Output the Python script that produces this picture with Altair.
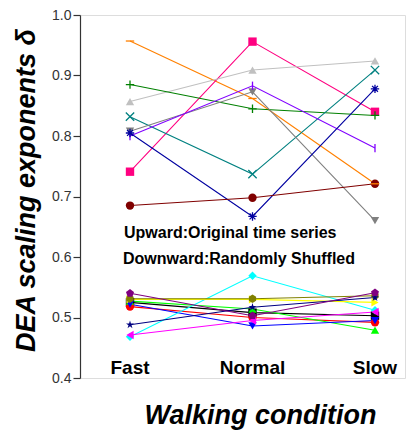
import altair as alt
import pandas as pd

# ---- data ----
conditions = ["Fast", "Normal", "Slow"]
cond_pos = [1, 2, 3]

# Upward: original time series
orig_orange = [0.957, 0.862, 0.721]
orig_pink = [0.741, 0.956, 0.840]
orig_lightgray = [0.857, 0.909, 0.924]
orig_green = [0.885, 0.845, 0.834]
orig_teal = [0.832, 0.737, 0.909]
orig_gray = [0.808, 0.873, 0.660]
orig_violet = [0.800, 0.883, 0.780]
orig_royal = [0.805, 0.667, 0.878]
orig_wine = [0.685, 0.698, 0.721]

# Downward: randomly shuffled
shuf_black = [0.525, 0.508, 0.503]
shuf_red = [0.518, 0.500, 0.492]
shuf_green = [0.527, 0.514, 0.479]
shuf_blue = [0.522, 0.486, 0.495]
shuf_cyan = [0.468, 0.569, 0.512]
shuf_magenta = [0.471, 0.495, 0.509]
shuf_yellow = [0.530, 0.530, 0.525]
shuf_olive = [0.531, 0.531, 0.536]
shuf_navy = [0.488, 0.517, 0.533]
shuf_purple = [0.540, 0.503, 0.541]

tick_values = [0.4, 0.45, 0.5, 0.55, 0.6, 0.65, 0.7, 0.75, 0.8, 0.85, 0.9, 0.95, 1.0]

# ---- styles ----
STAR = ("M0,-1L0.2233,-0.3074L0.951,-0.309L0.3614,0.1174L0.588,0.809L0,0.38"
        "L-0.588,0.809L-0.3614,0.1174L-0.951,-0.309L-0.2233,-0.3074Z")
HEX = "M0,-1L0.866,-0.5L0.866,0.5L0,1L-0.866,0.5L-0.866,-0.5Z"
PENT = "M0,-1L0.951,-0.309L0.588,0.809L-0.588,0.809L-0.951,-0.309Z"
PLUS = "M-1,0H1M0,-1V1"
XMARK = "M-1,-1L1,1M-1,1L1,-1"
AST = "M-1,0H1M0,-1V1M-0.7,-0.7L0.7,0.7M-0.7,0.7L0.7,-0.7"
DASH = "M-1,0H1"
BAR = "M0,-1V1"

# name: (values, color, shape, filled, size)
series = {
    "o_orange": (orig_orange, "#FF8000", DASH, False, 70),
    "o_pink": (orig_pink, "#FF0080", "square", True, 70),
    "o_lightgray": (orig_lightgray, "#C0C0C0", "triangle-up", True, 90),
    "o_green": (orig_green, "#008000", PLUS, False, 64),
    "o_teal": (orig_teal, "#008080", XMARK, False, 64),
    "o_gray": (orig_gray, "#808080", "triangle-down", True, 90),
    "o_violet": (orig_violet, "#8000FF", BAR, False, 80),
    "o_royal": (orig_royal, "#0000A0", AST, False, 90),
    "o_wine": (orig_wine, "#800000", "circle", True, 75),
    "s_black": (shuf_black, "#000000", "square", True, 55),
    "s_red": (shuf_red, "#FF0000", "circle", True, 70),
    "s_green": (shuf_green, "#00FF00", "triangle-up", True, 80),
    "s_blue": (shuf_blue, "#0000FF", "triangle-down", True, 80),
    "s_cyan": (shuf_cyan, "#00FFFF", "diamond", True, 90),
    "s_magenta": (shuf_magenta, "#FF00FF", "triangle-left", True, 90),
    "s_yellow": (shuf_yellow, "#FFFF00", "triangle-right", True, 80),
    "s_olive": (shuf_olive, "#808000", HEX, True, 90),
    "s_navy": (shuf_navy, "#000080", STAR, True, 110),
    "s_purple": (shuf_purple, "#800080", PENT, True, 90),
}

names = list(series.keys())
rows = []
for k, name in enumerate(names):
    vals = series[name][0]
    for c, p, v in zip(conditions, cond_pos, vals):
        rows.append({"series": name, "cond": c, "pos": p, "value": v, "k": k})
df = pd.DataFrame(rows)

color_scale = alt.Scale(domain=names, range=[series[n][1] for n in names])
shape_scale = alt.Scale(domain=names, range=[series[n][2] for n in names])
size_scale = alt.Scale(domain=names, range=[series[n][4] for n in names])
filled_names = [n for n in names if series[n][3]]
open_names = [n for n in names if not series[n][3]]

FONT = "Liberation Sans"

x_enc = alt.X("pos:Q", scale=alt.Scale(domain=[0.5918, 3.245], nice=False, zero=False),
              axis=alt.Axis(title="Walking condition", labels=False, ticks=False, domain=False,
                            grid=False, titleFont=FONT, titleFontSize=27, titleFontWeight="bold",
                            titleFontStyle="italic", titleColor="black", titleX=180,
                            titlePadding=24))
major_test = "abs(datum.value*10 - round(datum.value*10)) < 0.001"
y_enc = alt.Y("value:Q", scale=alt.Scale(domain=[0.4, 1.0], nice=False, zero=False),
              axis=alt.Axis(title="DEA scaling exponents δ", values=tick_values,
                            labelExpr=f"{major_test} ? format(datum.value, '.1f') : ''",
                            tickSize={"condition": {"test": major_test, "value": 7}, "value": 4},
                            grid=False, domainColor="#333333", tickColor="#333333",
                            domainWidth=1.2, tickWidth=1.2, labelFont=FONT, labelFontSize=14,
                            labelColor="#333333", labelPadding=2,
                            titleFont=FONT, titleFontSize=27, titleFontWeight="bold",
                            titleFontStyle="italic", titleColor="black", titlePadding=11,
                            titleY=175))

base = alt.Chart(df)

lines = base.mark_line(strokeWidth=1.1).encode(
    x=x_enc, y=y_enc,
    color=alt.Color("series:N", scale=color_scale, legend=None),
    detail="series:N",
    order="pos:Q",
)

filled_pts = base.transform_filter(
    alt.FieldOneOfPredicate(field="series", oneOf=filled_names)
).mark_point(filled=True, opacity=1).encode(
    x="pos:Q", y="value:Q",
    color=alt.Color("series:N", scale=color_scale, legend=None),
    shape=alt.Shape("series:N", scale=shape_scale, legend=None),
    size=alt.Size("series:N", scale=size_scale, legend=None),
)

open_pts = base.transform_filter(
    alt.FieldOneOfPredicate(field="series", oneOf=open_names)
).mark_point(filled=False, opacity=1, strokeWidth=1.3).encode(
    x="pos:Q", y="value:Q",
    color=alt.Color("series:N", scale=color_scale, legend=None),
    shape=alt.Shape("series:N", scale=shape_scale, legend=None),
    size=alt.Size("series:N", scale=size_scale, legend=None),
)

cond_df = pd.DataFrame({"cond": conditions, "pos": cond_pos})
cond_labels = alt.Chart(cond_df).mark_text(
    font=FONT, fontSize=19, fontWeight="bold", color="black", baseline="middle", align="center"
).encode(x="pos:Q", y=alt.value(353), text="cond:N")

notes = ["Upward:Original time series", "Downward:Randomly Shuffled"]
note1 = alt.Chart(pd.DataFrame({"t": [notes[0]]})).mark_text(
    font=FONT, fontSize=16, fontWeight="bold", color="black", align="left", baseline="alphabetic"
).encode(x=alt.value(44), y=alt.value(223), text="t:N")
note2 = alt.Chart(pd.DataFrame({"t": [notes[1]]})).mark_text(
    font=FONT, fontSize=16, fontWeight="bold", color="black", align="left", baseline="alphabetic"
).encode(x=alt.value(43), y=alt.value(249), text="t:N")

chart = alt.layer(lines, filled_pts, open_pts, cond_labels, note1, note2).properties(
    width=325, height=363,
    autosize=alt.AutoSizeParams(type="none"),
    padding={"left": 72, "top": 7, "right": 6, "bottom": 52},
).configure_view(stroke=None).configure(background="white")

chart.save("out.html", embed_options={"renderer": "svg", "actions": False})
